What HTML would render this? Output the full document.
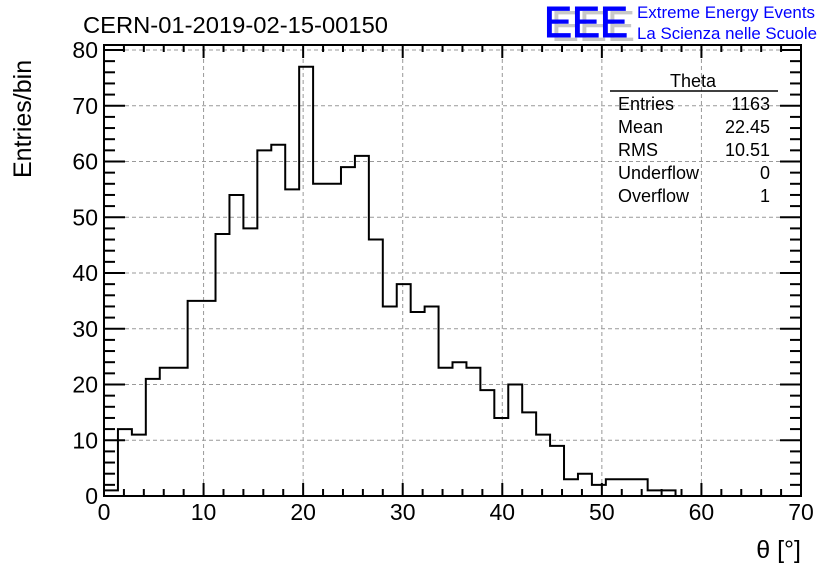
<!DOCTYPE html>
<html><head><meta charset="utf-8"><style>
body{margin:0;background:#fff;}
svg text{font-family:"Liberation Sans",sans-serif;}
</style></head><body>
<svg width="836" height="572" viewBox="0 0 836 572" xmlns="http://www.w3.org/2000/svg">
<rect width="836" height="572" fill="#fff"/>
<g id="grid"></g>
<g id="ticks"></g>
<path id="hist" fill="none" stroke="#000" stroke-width="2"/>
<rect x="104" y="45" width="697" height="451" fill="none" stroke="#000" stroke-width="2"/>
<g id="labels"></g>
<text x="83" y="33" font-size="23" textLength="305" lengthAdjust="spacingAndGlyphs">CERN-01-2019-02-15-00150</text>
<text x="551" y="41" font-size="44" fill="#c8c8c8" textLength="84" lengthAdjust="spacingAndGlyphs">EEE</text>
<text x="544" y="37" font-size="44" fill="#0000ff" stroke="#0000ff" stroke-width="1" textLength="84" lengthAdjust="spacingAndGlyphs">EEE</text>
<text x="637" y="18" font-size="17" fill="#0000ff" textLength="178" lengthAdjust="spacingAndGlyphs">Extreme Energy Events</text>
<text x="637" y="39" font-size="17" fill="#0000ff" textLength="180" lengthAdjust="spacingAndGlyphs">La Scienza nelle Scuole</text>
<text transform="translate(31,178) rotate(-90)" font-size="25">Entries/bin</text>
<text x="801" y="558" font-size="25" text-anchor="end">θ [°]</text>
<g font-size="18">
<text x="693" y="87" text-anchor="middle">Theta</text>
<line x1="610" y1="91" x2="778" y2="91" stroke="#000" stroke-width="1.5"/>
<text x="618" y="110">Entries</text><text x="770" y="110" text-anchor="end">1163</text>
<text x="618" y="133">Mean</text><text x="770" y="133" text-anchor="end">22.45</text>
<text x="618" y="156">RMS</text><text x="770" y="156" text-anchor="end">10.51</text>
<text x="618" y="179">Underflow</text><text x="770" y="179" text-anchor="end">0</text>
<text x="618" y="202">Overflow</text><text x="770" y="202" text-anchor="end">1</text>
</g>
</svg>
<script>
const binWidth = 1.4;
const counts = [1,12,11,21,23,23,35,35,47,54,48,62,63,55,77,56,56,59,61,46,34,38,33,34,23,24,23,19,14,20,15,11,9,3,4,2,3,3,3,1,1,0,0,0,0,0,0,0,0,0];
const xTicks = [0,10,20,30,40,50,60,70];
const yTicks = [0,10,20,30,40,50,60,70,80];
const X0=104,X1=801,Y0=496,Y80=50,YT=45;
const sx=v=>X0+(v-0)/(70-0)*(X1-X0);
const sy=v=>Y0-(v-0)/(80-0)*(Y0-Y80);
const NS='http://www.w3.org/2000/svg';
function mk(tag,attrs,parent){const e=document.createElementNS(NS,tag);for(const k in attrs)e.setAttribute(k,attrs[k]);parent.appendChild(e);return e;}
const grid=document.getElementById('grid'),ticks=document.getElementById('ticks'),labels=document.getElementById('labels');
xTicks.forEach(t=>{
  if(t>0&&t<70){const l=mk('line',{x1:sx(t),x2:sx(t),y1:YT,y2:Y0,stroke:'#999','stroke-dasharray':'4,3','stroke-width':1},grid);
  
  }
  const tx=mk('text',{x:sx(t),y:520,'font-size':23,'text-anchor':'middle'},labels);tx.textContent=t;
  
  
});
yTicks.forEach(t=>{
  if(t>0){const l=mk('line',{x1:X0,x2:X1,y1:sy(t),y2:sy(t),stroke:'#999','stroke-dasharray':'4,3','stroke-width':1},grid);
  
  }
  const tx=mk('text',{x:98,y:sy(t)+8,'font-size':23,'text-anchor':'end'},labels);tx.textContent=t;
  
  
});
for(let v=0;v<=70;v+=2){const L=v%10===0?13:7;
  mk('line',{x1:sx(v),x2:sx(v),y1:Y0,y2:Y0-L,stroke:'#000','stroke-width':2},ticks);
  mk('line',{x1:sx(v),x2:sx(v),y1:YT,y2:YT+L,stroke:'#000','stroke-width':2},ticks);}
for(let v=0;v<=80;v+=2){const L=v%10===0?21:11;
  mk('line',{x1:X0,x2:X0+L,y1:sy(v),y2:sy(v),stroke:'#000','stroke-width':2},ticks);
  mk('line',{x1:X1,x2:X1-L,y1:sy(v),y2:sy(v),stroke:'#000','stroke-width':2},ticks);}
let last=counts.length-1;while(last>0&&counts[last]===0)last--;
let d='M'+sx(0)+','+sy(0);
for(let i=0;i<=last;i++){d+=' L'+sx(i*binWidth)+','+sy(counts[i])+' L'+sx((i+1)*binWidth)+','+sy(counts[i]);}
d+=' L'+sx((last+1)*binWidth)+','+sy(0);
document.getElementById('hist').setAttribute('d',d);
</script>
</body></html>
